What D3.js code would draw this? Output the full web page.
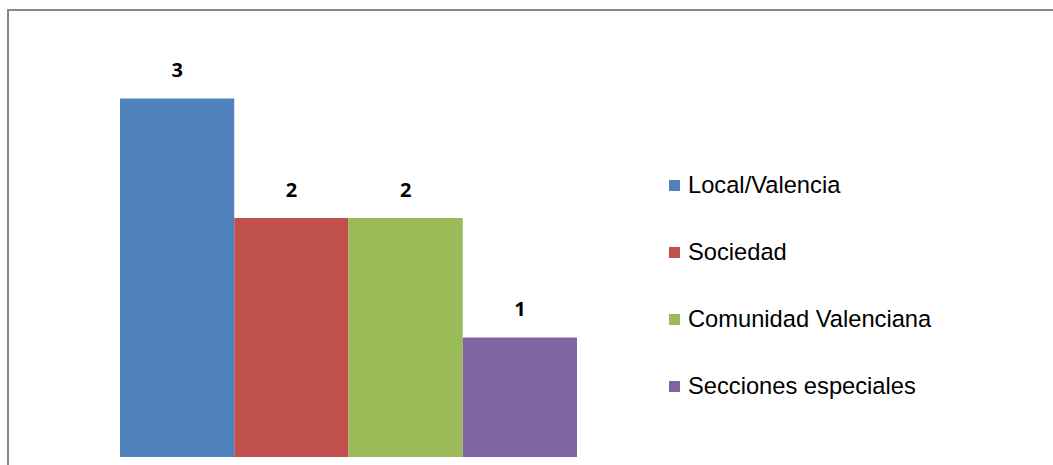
<!DOCTYPE html>
<html>
<head>
<meta charset="utf-8">
<script src="https://cdn.jsdelivr.net/npm/d3@7"></script>
<style>
  html, body { margin: 0; padding: 0; background: #fff; }
  svg { display: block; }
</style>
</head>
<body>
<script>
const categories = ["Local/Valencia", "Sociedad", "Comunidad Valenciana", "Secciones especiales"];
const values = [3, 2, 2, 1];
const colors = ["#4F81BD", "#C0504D", "#9BBB59", "#8064A2"];

const W = 1053, H = 465;
const svg = d3.select("body").append("svg").attr("width", W).attr("height", H);

// chart frame
svg.append("path")
  .attr("d", `M8,${H} L8,10 L${W},10`)
  .attr("fill", "none")
  .attr("stroke", "#898989")
  .attr("stroke-width", 2);

const x = d3.scaleBand().domain(categories).range([120, 577]).padding(0);
const y = d3.scaleLinear().domain([0, 3]).range([457, 98.5]);

svg.selectAll("rect.bar").data(categories).enter().append("rect")
  .attr("class", "bar")
  .attr("x", d => x(d))
  .attr("width", x.bandwidth())
  .attr("y", (d, i) => y(values[i]))
  .attr("height", (d, i) => y(0) - y(values[i]))
  .attr("fill", (d, i) => colors[i]);

svg.selectAll("text.lbl").data(categories).enter().append("text")
  .attr("class", "lbl")
  .attr("x", d => x(d) + x.bandwidth() / 2)
  .attr("y", (d, i) => y(values[i]) - 21.5)
  .attr("text-anchor", "middle")
  .attr("font-family", "'Open Sans', 'Liberation Sans', Arial, sans-serif")
  .attr("font-weight", "bold")
  .attr("font-size", 20)
  .attr("fill", "#000")
  .text((d, i) => values[i]);

const legend = svg.append("g").attr("transform", "translate(669,0)");
const ly = d3.scalePoint().domain(categories).range([193, 394]);
const items = legend.selectAll("g").data(categories).enter().append("g")
  .attr("transform", d => `translate(0,${ly(d)})`);
items.append("rect")
  .attr("x", 0).attr("y", -13)
  .attr("width", 11).attr("height", 11)
  .attr("fill", (d, i) => colors[i]);
items.append("text")
  .attr("x", 19).attr("y", 0)
  .attr("font-family", "'Liberation Sans', Arial, sans-serif")
  .attr("font-size", 23.7)
  .attr("fill", "#000")
  .text(d => d);
</script>
</body>
</html>
